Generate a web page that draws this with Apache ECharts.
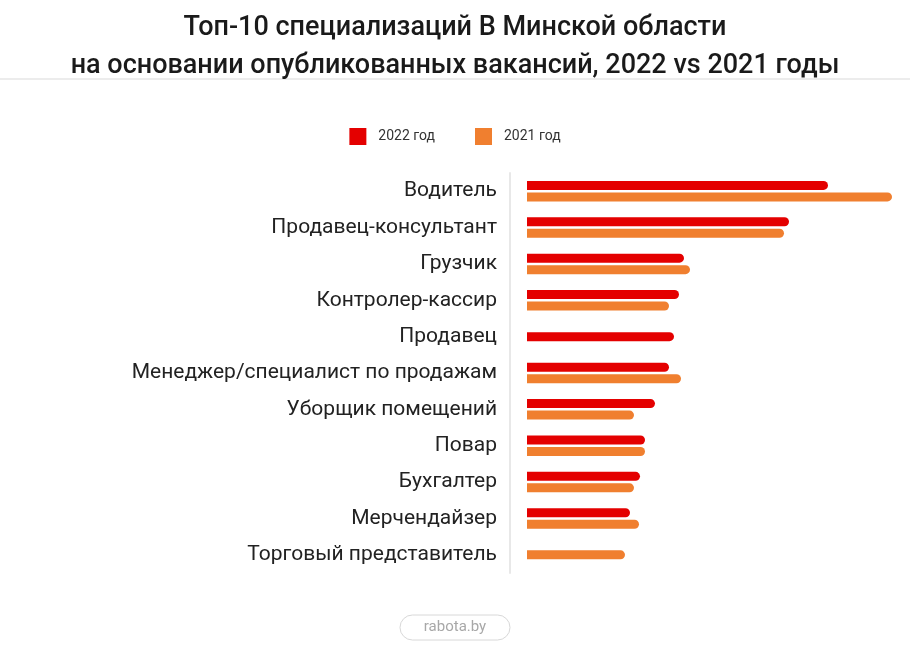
<!DOCTYPE html>
<html>
<head>
<meta charset="utf-8">
<script src="https://cdn.jsdelivr.net/npm/echarts@6/dist/echarts.min.js"></script>
<style>
  html, body { margin: 0; padding: 0; background: #fff; }
  #main { width: 910px; height: 655px; }
</style>
</head>
<body>
<div id="main"></div>
<script>
const categories = [
  "Водитель",
  "Продавец-консультант",
  "Грузчик",
  "Контролер-кассир",
  "Продавец",
  "Менеджер/специалист по продажам",
  "Уборщик помещений",
  "Повар",
  "Бухгалтер",
  "Мерчендайзер",
  "Торговый представитель"
];
// relative values (no scale in the source)
const values2022 = [301, 262, 157, 152, null, 142, 128, 118, 113, 103, null];
const values2021 = [365, 257, 163, 142, null, 154, 107, 118, 107, 112, null];
// categories that only have one year get a single centred bar
const singleValues = [null, null, null, null, 147, null, null, null, null, null, 98];
const singleYears = [null, null, null, null, "2022 год", null, null, null, null, null, "2021 год"];
const seriesNames = ["2022 год", "2021 год"];

const RED = "#e40000";
const ORANGE = "#f07f2f";
const colorOf = { "2022 год": RED, "2021 год": ORANGE };

const chart = echarts.init(document.getElementById("main"));
const font = "Roboto, 'Noto Sans', sans-serif";
const radius = [0, 5, 5, 0];

chart.setOption({
  backgroundColor: "#fff",
  animation: false,
  title: {
    text: "Топ-10 специализаций В Минской области\nна основании опубликованных вакансий, 2022 vs 2021 годы",
    left: "center",
    top: 4,
    textStyle: {
      fontFamily: font,
      fontSize: 27,
      fontWeight: 500,
      color: "#1a1a1a",
      lineHeight: 38
    }
  },
  legend: {
    data: seriesNames,
    top: 123,
    left: "center",
    icon: "rect",
    itemWidth: 17,
    itemHeight: 17,
    itemGap: 40,
    textStyle: {
      fontFamily: font,
      fontSize: 14,
      color: "#333",
      padding: [0, 0, 0, 7]
    }
  },
  graphic: [
    {
      type: "rect",
      shape: { x: 0, y: 78, width: 910, height: 2 },
      style: { fill: "#ececec" }
    },
    {
      type: "rect",
      shape: { x: 400, y: 615, width: 110, height: 25, r: 12.5 },
      style: { fill: "#fff", stroke: "#d8d8d8", lineWidth: 1 }
    },
    {
      type: "text",
      x: 455,
      y: 627.5,
      style: {
        text: "rabota.by",
        fill: "#a8a8a8",
        font: "15px " + font,
        align: "center",
        verticalAlign: "middle"
      }
    }
  ],
  grid: {
    left: 527,
    top: 173,
    width: 365,
    height: 400
  },
  xAxis: {
    type: "value",
    min: 0,
    max: 365,
    show: false
  },
  yAxis: [
    {
      type: "category",
      data: categories,
      inverse: true,
      offset: 17,
      axisTick: { show: false },
      axisLine: { show: true, onZero: false, lineStyle: { color: "#e8e8e8", width: 2 } },
      axisLabel: {
        margin: 13,
        fontFamily: font,
        fontSize: 21,
        color: "#222"
      }
    },
    {
      type: "category",
      data: categories,
      inverse: true,
      show: false
    }
  ],
  series: [
    {
      name: seriesNames[0],
      type: "bar",
      data: values2022,
      barWidth: 9,
      barGap: "28%",
      itemStyle: { color: RED, borderRadius: radius }
    },
    {
      name: seriesNames[1],
      type: "bar",
      data: values2021,
      barWidth: 9,
      barGap: "28%",
      itemStyle: { color: ORANGE, borderRadius: radius }
    },
    {
      name: "single",
      type: "bar",
      yAxisIndex: 1,
      barWidth: 9,
      data: singleValues.map((v, i) => ({
        value: v,
        itemStyle: { color: singleYears[i] ? colorOf[singleYears[i]] : RED }
      })),
      itemStyle: { borderRadius: radius }
    }
  ]
});
</script>
</body>
</html>
